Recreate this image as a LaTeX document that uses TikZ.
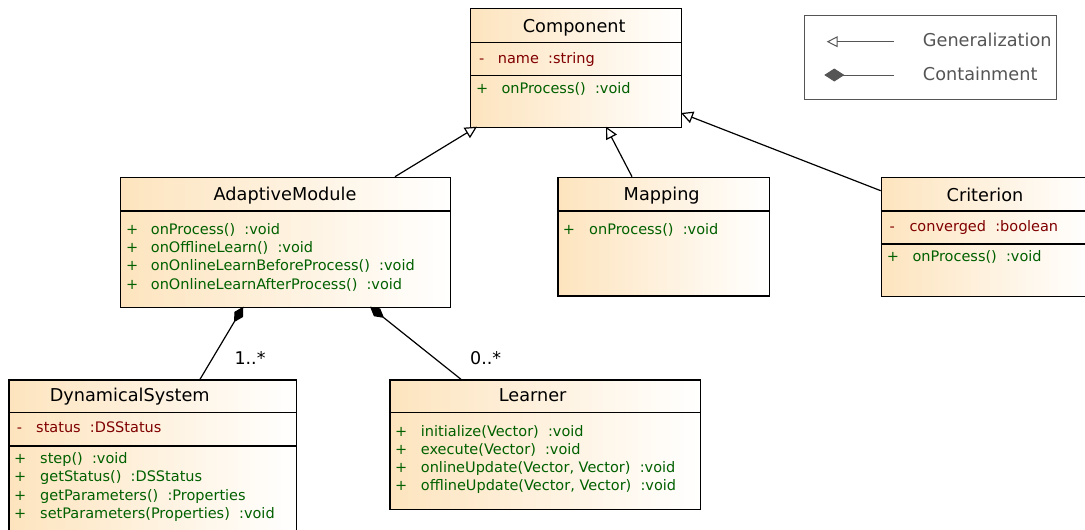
\documentclass[tikz,border=0pt]{standalone}
\usepackage{fontspec}
\setmainfont{DejaVu Sans}
\usetikzlibrary{arrows.meta}

\definecolor{umlfill}{RGB}{253,228,190}
\definecolor{attrred}{RGB}{128,0,0}
\definecolor{opgreen}{RGB}{0,96,0}
\definecolor{legendgray}{RGB}{85,85,85}

\tikzset{
  classbox/.style={draw, line width=1.3pt, anchor=north west, inner sep=0pt,
    left color=umlfill, right color=white},
  classname/.style={anchor=base, inner sep=0pt, font=\fontsize{17.7}{20}\selectfont},
  attr/.style={anchor=base west, inner sep=0pt, text=attrred, font=\fontsize{14.5}{17}\selectfont},
  oper/.style={anchor=base west, inner sep=0pt, text=opgreen, font=\fontsize{14.5}{17}\selectfont},
  gen/.style={-{Triangle[open,length=12pt,width=12pt]}, line width=1.2pt},
  cont/.style={{Diamond[length=18pt,width=10pt]}-, line width=1.2pt},
  mult/.style={anchor=base west, inner sep=0pt, font=\fontsize{17.5}{20}\selectfont},
}

\begin{document}
\begin{tikzpicture}[x=1pt, y=-1pt]
    \useasboundingbox (0,0) rectangle (1085,530);

        % 1) Component
        \node[classbox, minimum width=211pt, minimum height=118.7pt] (comp) at (470,8) {};
        \draw[line width=1.3pt] (comp.west |- 0,42.3) -- (comp.east |- 0,42.3);
        \draw[line width=1.3pt] (comp.west |- 0,75.7) -- (comp.east |- 0,75.7);
        \node[classname] (comp-name) at (574.2,32.3) {Component};
        \node[attr] (comp-sign-1) at (479,63.3) {-};
        \node[attr] (comp-attr-1) at (497.7,63.3) {name\ \ :string};
        \node[oper] (comp-sign-2) at (476,93.3) {+};
        \node[oper] (comp-op-1) at (501.3,93.3) {onProcess()\ \ :void};

        % 2) AdaptiveModule
        \node[classbox, minimum width=330pt, minimum height=130pt] (am) at (120,176.7) {};
        \draw[line width=1.3pt] (am.west |- 0,211) -- (am.east |- 0,211);
        \node[classname] (am-name) at (285,200.7) {AdaptiveModule};
        \foreach \y/\txt [count=\i] in {234/{onProcess()\ \ :void},
            252.3/{onOfflineLearn()\ \ :void},
            270.6/{onOnlineLearnBeforeProcess()\ \ :void},
            289/{onOnlineLearnAfterProcess()\ \ :void}} {
          \node[oper] (am-sign-\i) at (126,\y) {+};
          \node[oper] (am-op-\i) at (150.7,\y) {\txt};
        }

        % 3) Mapping
        \node[classbox, minimum width=211.4pt, minimum height=118.6pt] (map) at (557.3,176.7) {};
        \draw[line width=1.3pt] (map.west |- 0,211) -- (map.east |- 0,211);
        \node[classname] (map-name) at (661.7,200.7) {Mapping};
        \node[oper] (map-sign-1) at (562.7,234.3) {+};
        \node[oper] (map-op-1) at (589,234.3) {onProcess()\ \ :void};

        % 4) Criterion (runs past the right edge)
        \node[classbox, minimum width=210pt, minimum height=119pt] (crit) at (880.7,176.7) {};
        \draw[line width=1.3pt] (crit.west |- 0,211) -- (crit.east |- 0,211);
        \draw[line width=1.3pt] (crit.west |- 0,244) -- (crit.east |- 0,244);
        \node[classname] (crit-name) at (985,201) {Criterion};
        \node[attr] (crit-sign-1) at (889.3,231.7) {-};
        \node[attr] (crit-attr-1) at (909.3,231.7) {converged\ \ :boolean};
        \node[oper] (crit-sign-2) at (886.7,261.7) {+};
        \node[oper] (crit-op-1) at (912.3,261.7) {onProcess()\ \ :void};

        % 5) DynamicalSystem (runs past the bottom edge)
        \node[classbox, minimum width=287.4pt, minimum height=160pt] (ds) at (8.3,379.3) {};
        \draw[line width=1.3pt] (ds.west |- 0,412.3) -- (ds.east |- 0,412.3);
        \draw[line width=1.3pt] (ds.west |- 0,446) -- (ds.east |- 0,446);
        \node[classname] (ds-name) at (129.7,401.7) {DynamicalSystem};
        \node[attr] (ds-sign-0) at (16.7,432.7) {-};
        \node[attr] (ds-attr-1) at (36,432.7) {status\ \ :DSStatus};
        \foreach \y/\txt [count=\i] in {463.3/{step()\ \ :void},
            481.7/{getStatus()\ \ :DSStatus},
            500/{getParameters()\ \ :Properties},
            518.3/{setParameters(Properties)\ \ :void}} {
          \node[oper] (ds-sign-\i) at (14,\y) {+};
          \node[oper] (ds-op-\i) at (40,\y) {\txt};
        }

        % 6) Learner
        \node[classbox, minimum width=310.7pt, minimum height=129.7pt] (learn) at (389.3,379.3) {};
        \draw[line width=1.3pt] (learn.west |- 0,412.7) -- (learn.east |- 0,412.7);
        \node[classname] (learn-name) at (532.7,401.7) {Learner};
        \foreach \y/\txt [count=\i] in {436/{initialize(Vector)\ \ :void},
            454/{execute(Vector)\ \ :void},
            472.7/{onlineUpdate(Vector, Vector)\ \ :void},
            490.7/{offlineUpdate(Vector, Vector)\ \ :void}} {
          \node[oper] (learn-sign-\i) at (395,\y) {+};
          \node[oper] (learn-op-\i) at (420.7,\y) {\txt};
        }

        % 7) Generalizations up to Component
        \coordinate (comp-in-1) at (477,126.7);
        \coordinate (comp-in-2) at (606,126.7);
        \coordinate (comp-in-3) at (681,113);
        \coordinate (am-out) at (395,176.7);
        \coordinate (map-out) at (632,176.7);
        \coordinate (crit-out) at (880.7,190.7);
        \draw[gen] (am-out) -- (comp-in-1);
        \draw[gen] (map-out) -- (comp-in-2);
        \draw[gen] (crit-out) -- (comp-in-3);

        % 8) Containments from AdaptiveModule
        \coordinate (am-ds) at (243.3,306.7);
        \coordinate (am-learn) at (370,306.7);
        \coordinate (ds-in) at (200,379.3);
        \coordinate (learn-in) at (461,379.3);
        \draw[cont] (am-ds) -- (ds-in);
        \draw[cont] (am-learn) -- (learn-in);
        \node[mult] (mult-ds) at (234.3,364) {1..*};
        \node[mult] (mult-learn) at (470,364) {0..*};

        % 9) Legend
        \node[draw=legendgray, line width=1pt, anchor=north west, inner sep=0pt,
              minimum width=251.7pt, minimum height=84pt] (legend) at (804.3,15) {};
        \coordinate (gen-tip) at (826.7,41.7);
        \coordinate (gen-end) at (894,41.7);
        \coordinate (cont-tip) at (824.3,75);
        \coordinate (cont-end) at (894,75);
        \draw[-{Triangle[open,length=11pt,width=11pt]}, draw=legendgray, line width=1pt] (gen-end) -- (gen-tip);
        \draw[{Diamond[length=20pt,width=13pt]}-, draw=legendgray, fill=legendgray, line width=1pt] (cont-tip) -- (cont-end);
        \node[anchor=base west, inner sep=0pt, text=legendgray, font=\fontsize{17.7}{20}\selectfont] (gen-label) at (922.7,46.7) {Generalization};
        \node[anchor=base west, inner sep=0pt, text=legendgray, font=\fontsize{17.7}{20}\selectfont] (cont-label) at (922.7,80) {Containment};

    \end{tikzpicture}
\end{document}
